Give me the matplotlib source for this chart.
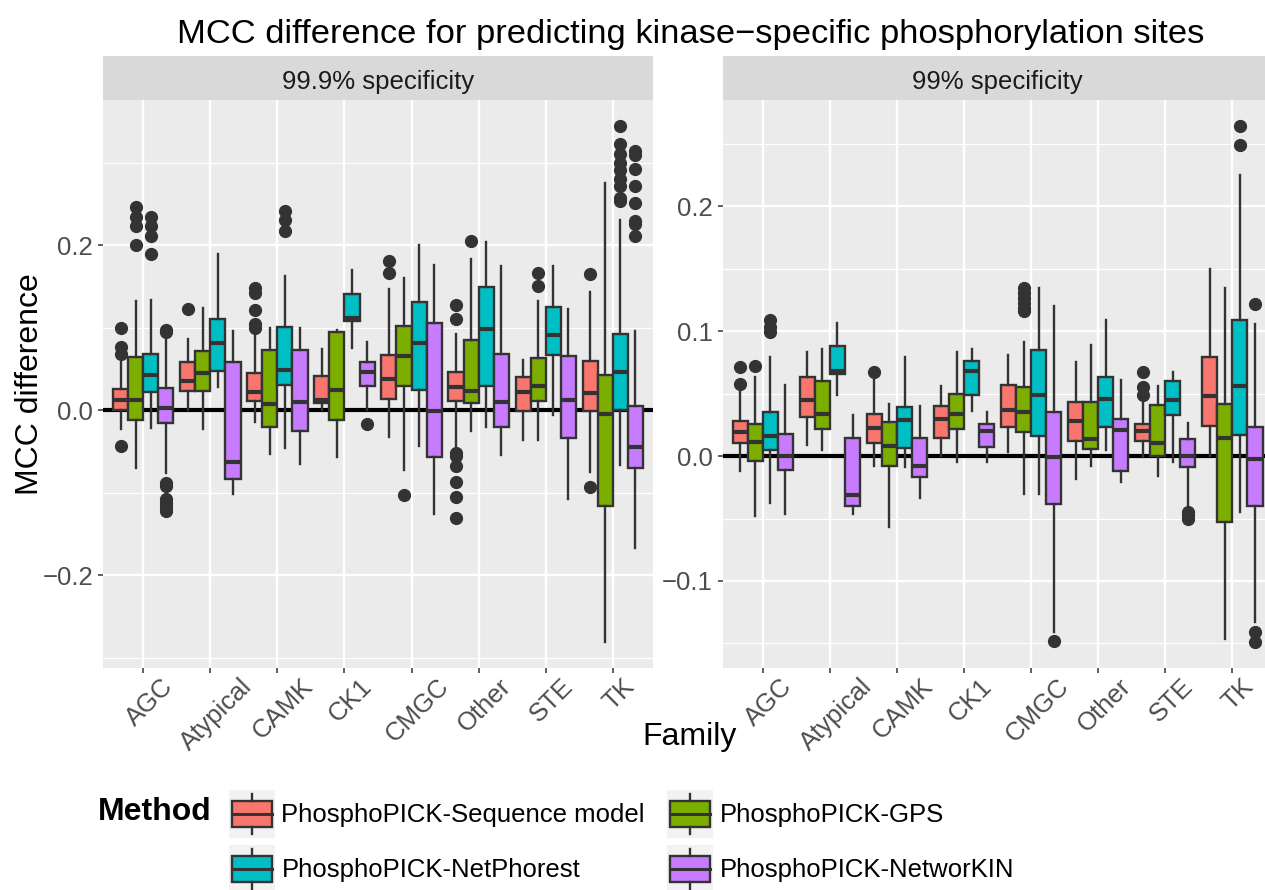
import numpy as np
import matplotlib
matplotlib.use("Agg")
import matplotlib.pyplot as plt
from matplotlib.patches import Patch, Rectangle
from matplotlib.lines import Line2D
from matplotlib.legend_handler import HandlerBase
from matplotlib.transforms import ScaledTranslation

plt.rcParams['font.family'] = ['Liberation Sans', 'DejaVu Sans']

families = ['AGC', 'Atypical', 'CAMK', 'CK1', 'CMGC', 'Other', 'STE', 'TK']
methods = ['PhosphoPICK-Sequence model', 'PhosphoPICK-GPS',
           'PhosphoPICK-NetPhorest', 'PhosphoPICK-NetworKIN']
colors = ['#F8766D', '#7CAE00', '#00BFC4', '#C77CFF']
panel_titles = ['99.9% specificity', '99% specificity']

# box statistics: one row per method, one column per family
# ---- 99.9% specificity
q1_999 = [[0.0, 0.023, 0.011, 0.0085, 0.0133, 0.011, -0.001, -0.001],
          [-0.012, 0.023, -0.0205, -0.012, 0.030, 0.0084, 0.011, -0.116],
          [0.0217, 0.048, 0.031, 0.108, 0.025, 0.030, 0.0675, 0.0],
          [-0.0157, -0.083, -0.025, 0.030, -0.057, -0.0205, -0.034, -0.070]]
med_999 = [[0.013, 0.036, 0.0217, 0.013, 0.0386, 0.028, 0.0217, 0.0205],
           [0.013, 0.045, 0.0072, 0.025, 0.066, 0.024, 0.029, -0.004],
           [0.0434, 0.082, 0.049, 0.112, 0.082, 0.099, 0.0916, 0.047],
           [0.0024, -0.063, 0.0096, 0.046, -0.001, 0.0096, 0.013, -0.0446]]
q3_999 = [[0.0265, 0.059, 0.045, 0.042, 0.0675, 0.047, 0.041, 0.060],
          [0.065, 0.072, 0.0735, 0.095, 0.1024, 0.0855, 0.064, 0.0434],
          [0.0687, 0.111, 0.101, 0.141, 0.131, 0.150, 0.125, 0.0928],
          [0.0277, 0.059, 0.0735, 0.059, 0.106, 0.0687, 0.066, 0.005]]
lo_999 = [[-0.022, 0.001, -0.0145, 0.001, -0.0325, -0.043, -0.036, -0.075],
          [-0.070, -0.022, -0.053, -0.057, -0.072, -0.025, -0.036, -0.281],
          [-0.0217, 0.028, -0.045, 0.076, -0.043, -0.0205, -0.005, -0.066],
          [-0.0759, -0.101, -0.065, 0.001, -0.125, -0.054, -0.108, -0.167]]
hi_999 = [[0.059, 0.087, 0.095, 0.0747, 0.147, 0.093, 0.061, 0.143],
          [0.1325, 0.124, 0.100, 0.098, 0.161, 0.184, 0.1325, 0.276],
          [0.134, 0.190, 0.163, 0.170, 0.201, 0.204, 0.175, 0.231],
          [0.0867, 0.096, 0.100, 0.083, 0.176, 0.175, 0.123, 0.096]]
fl_999 = [[[0.068, 0.077, 0.1, -0.043], [0.123], [0.1, 0.105, 0.122, 0.142, 0.148], [],
           [0.166, 0.181], [0.111, 0.128, -0.052, -0.055, -0.067, -0.087, -0.105, -0.13],
           [], [0.165, -0.093]],
          [[0.201, 0.224, 0.235, 0.247], [], [], [], [-0.102], [0.205], [0.151, 0.166], []],
          [[0.19, 0.212, 0.224, 0.235], [], [0.218, 0.231, 0.242], [], [], [], [],
           [0.254, 0.257, 0.272, 0.28, 0.292, 0.3, 0.311, 0.323, 0.345]],
          [[0.095, 0.098, -0.088, -0.092, -0.107, -0.112, -0.117, -0.122], [], [], [-0.016],
           [], [], [], [0.211, 0.226, 0.23, 0.252, 0.272, 0.293, 0.31, 0.314]]]

# ---- 99% specificity
q1_99 = [[0.0104, 0.031, 0.0104, 0.0143, 0.023, 0.012, 0.012, 0.024],
         [-0.004, 0.022, -0.008, 0.022, 0.019, 0.0056, 0.0, -0.0526],
         [0.0048, 0.066, 0.0064, 0.0486, 0.016, 0.023, 0.0327, 0.0167],
         [-0.011, -0.040, -0.0167, 0.0072, -0.038, -0.012, -0.009, -0.040]]
med_99 = [[0.0191, 0.0446, 0.0223, 0.0295, 0.0367, 0.0279, 0.020, 0.0478],
          [0.011, 0.034, 0.008, 0.034, 0.035, 0.0135, 0.0104, 0.0143],
          [0.016, 0.0685, 0.0287, 0.068, 0.049, 0.046, 0.0446, 0.0558],
          [0.0, -0.031, -0.008, 0.020, -0.001, 0.0207, 0.0, -0.0024]]
q3_99 = [[0.0279, 0.0637, 0.0335, 0.040, 0.0566, 0.043, 0.0255, 0.079],
         [0.026, 0.060, 0.027, 0.050, 0.055, 0.043, 0.0406, 0.042],
         [0.035, 0.0884, 0.039, 0.0765, 0.085, 0.0637, 0.060, 0.109],
         [0.0175, 0.0143, 0.0143, 0.0255, 0.035, 0.030, 0.0135, 0.023]]
lo_99 = [[-0.012, 0.0088, -0.008, 0.0, 0.003, -0.018, -0.001, 0.0],
         [-0.048, 0.005, -0.057, -0.005, -0.030, -0.008, -0.016, -0.1466],
         [-0.0375, 0.049, -0.009, 0.036, -0.030, 0.005, -0.005, -0.0446],
         [-0.046, -0.046, -0.0335, -0.005, -0.141, -0.021, -0.042, -0.133]]
hi_99 = [[0.0526, 0.083, 0.062, 0.0558, 0.0813, 0.0757, 0.044, 0.150],
         [0.063, 0.086, 0.0414, 0.0837, 0.091, 0.089, 0.0558, 0.1347],
         [0.079, 0.1068, 0.079, 0.086, 0.135, 0.109, 0.067, 0.2255],
         [0.0566, 0.0327, 0.0398, 0.035, 0.120, 0.0606, 0.0263, 0.106]]
fl_99 = [[[0.058, 0.0717], [], [0.067], [], [], [], [0.0486, 0.055, 0.067], []],
         [[0.072], [], [], [], [0.116, 0.119, 0.123, 0.127, 0.131, 0.135], [], [], []],
         [[0.099, 0.103, 0.109], [], [], [], [], [], [], [0.249, 0.2645]],
         [[], [], [], [], [-0.148], [], [-0.045, -0.047, -0.05], [0.122, -0.141, -0.149]]]

EDGE = '#333333'
W, H = 1265, 890
fig = plt.figure(figsize=(W / 100, H / 100), dpi=100)


def px_axes(x0, y0, x1, y1):
    return fig.add_axes([x0 / W, 1 - y1 / H, (x1 - x0) / W, (y1 - y0) / H])


def fmt(v):
    return f'{v:.1f}'.replace('-', '\u2212')


def draw_panel(ax, q1, med, q3, lo, hi, fl, major, minor):
    offs = [-0.3375, -0.1125, 0.1125, 0.3375]
    for m in range(4):
        stats = [dict(q1=q1[m][i], med=med[m][i], q3=q3[m][i],
                      whislo=lo[m][i], whishi=hi[m][i], fliers=fl[m][i])
                 for i in range(len(families))]
        ax.bxp(stats, positions=np.arange(len(families)) + offs[m], widths=0.225,
               patch_artist=True, showcaps=False, manage_ticks=False,
               boxprops=dict(facecolor=colors[m], edgecolor=EDGE, linewidth=1.7),
               medianprops=dict(color=EDGE, linewidth=3.0, solid_capstyle='butt'),
               whiskerprops=dict(color=EDGE, linewidth=1.7),
               flierprops=dict(marker='o', markerfacecolor=EDGE, markeredgecolor=EDGE,
                               markersize=8.5, linestyle='none'))
    ax.axhline(0, color='black', linewidth=3, zorder=1.5)

    allv = np.concatenate([np.ravel(lo), np.ravel(hi)] +
                          [np.array(f, dtype=float) for row in fl for f in row])
    span = allv.max() - allv.min()
    ax.set_ylim(allv.min() - 0.05 * span, allv.max() + 0.05 * span)
    ax.set_xlim(-0.6, len(families) - 0.4)

    ax.set_facecolor('#EBEBEB')
    for s in ax.spines.values():
        s.set_visible(False)
    ax.set_axisbelow(True)
    ax.set_yticks(major)
    ax.set_yticklabels([fmt(v) for v in major])
    ax.set_yticks(minor, minor=True)
    ax.set_xticks(np.arange(len(families)))
    ax.set_xticklabels(families, rotation=45, ha='center', va='top')
    ax.grid(which='major', color='white', linewidth=1.7)
    ax.grid(which='minor', axis='y', color='white', linewidth=0.85)
    ax.tick_params(which='major', length=3.6, width=1.1, color=EDGE,
                   labelcolor='#4D4D4D', labelsize=18.5, pad=3.6)
    ax.tick_params(axis='x', pad=1)
    ax.tick_params(which='minor', length=0)
    shift = ScaledTranslation(0.06, 0, fig.dpi_scale_trans)
    for lab in ax.get_xticklabels():
        lab.set_transform(lab.get_transform() + shift)


def draw_strip(x0, x1, text):
    sax = px_axes(x0, 56, x1, 99.5)
    sax.set_facecolor('#D9D9D9')
    sax.set_xticks([])
    sax.set_yticks([])
    for s in sax.spines.values():
        s.set_visible(False)
    sax.text(0.5, 0.24, text, transform=sax.transAxes, ha='center', va='baseline',
             fontsize=18.5, color='#1A1A1A')


ax1 = px_axes(103, 100, 653, 668)
draw_panel(ax1, q1_999, med_999, q3_999, lo_999, hi_999, fl_999,
           [-0.2, 0.0, 0.2], [-0.3, -0.1, 0.1, 0.3])
draw_strip(103, 653, panel_titles[0])

ax2 = px_axes(722.6, 100, 1272.6, 668)
draw_panel(ax2, q1_99, med_99, q3_99, lo_99, hi_99, fl_99,
           [-0.1, 0.0, 0.1, 0.2], [-0.15, -0.05, 0.05, 0.15, 0.25])
draw_strip(722.6, 1272.6, panel_titles[1])

fig.text(691 / W, 1 - 43 / H,
         'MCC difference for predicting kinase\u2212specific phosphorylation sites',
         ha='center', va='baseline', fontsize=24.8)
fig.text(30 / W, 1 - 384 / H, 'MCC difference', rotation=90, ha='center',
         va='center', fontsize=23)
fig.text(690 / W, 1 - 745 / H, 'Family', ha='center', va='baseline', fontsize=23)
fig.text(98 / W, 1 - 812 / H, 'Method', ha='left', va='center', fontsize=23,
         fontweight='bold')


class BoxKey(HandlerBase):
    def create_artists(self, legend, orig_handle, xdescent, ydescent, width,
                       height, fontsize, trans):
        x0, y0 = -xdescent, -ydescent
        fc = orig_handle.get_facecolor()
        cx = x0 + width / 2
        bg = Rectangle((x0, y0), width, height, facecolor='#F2F2F2',
                       edgecolor='none', transform=trans)
        box = Rectangle((x0 + 0.07 * width, y0 + 0.23 * height), 0.86 * width,
                        0.54 * height, facecolor=fc, edgecolor=EDGE,
                        linewidth=1.7, transform=trans)
        med = Line2D([x0 + 0.07 * width, x0 + 0.93 * width],
                     [y0 + 0.5 * height] * 2, color=EDGE, lw=2.2, transform=trans)
        w1 = Line2D([cx, cx], [y0 + 0.08 * height, y0 + 0.23 * height],
                    color=EDGE, lw=1.7, transform=trans)
        w2 = Line2D([cx, cx], [y0 + 0.77 * height, y0 + 0.92 * height],
                    color=EDGE, lw=1.7, transform=trans)
        return [bg, box, med, w1, w2]


handles = [Patch(facecolor=c) for c in colors]
order = [0, 2, 1, 3]
fig.legend([handles[i] for i in order], [methods[i] for i in order],
           handler_map={Patch: BoxKey()}, ncol=2, loc='upper left',
           bbox_to_anchor=(229 / W, 1 - 790 / H), frameon=False, fontsize=18.5,
           handlelength=1.79, handleheight=2.5, handletextpad=0.25,
           columnspacing=0.86, labelspacing=0.27, borderpad=0, borderaxespad=0)

fig.savefig('out.png', dpi=100)
